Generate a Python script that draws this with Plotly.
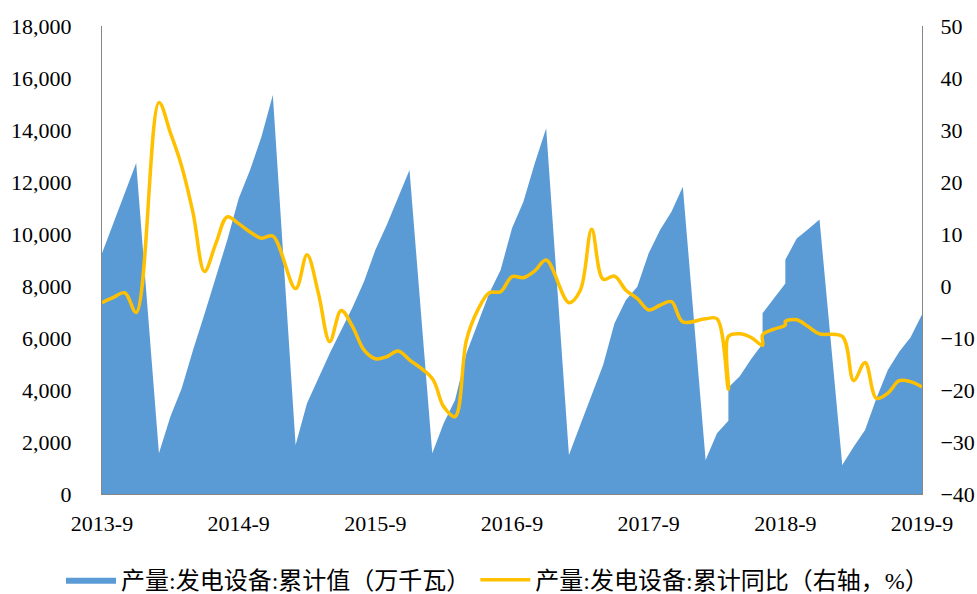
import plotly.graph_objects as go

# Month labels (January is not reported; some months appear twice in the source data)
months = [
    "2013-09", "2013-10", "2013-11", "2013-12",
    "2014-02", "2014-03", "2014-04", "2014-05", "2014-06", "2014-07", "2014-08", "2014-09", "2014-10", "2014-11", "2014-12",
    "2015-02", "2015-03", "2015-04", "2015-05", "2015-06", "2015-07", "2015-08", "2015-09", "2015-10", "2015-11", "2015-12",
    "2016-02", "2016-03", "2016-04", "2016-05", "2016-06", "2016-07", "2016-08", "2016-09", "2016-10", "2016-11", "2016-12",
    "2017-02", "2017-03", "2017-04", "2017-05", "2017-06", "2017-07", "2017-08", "2017-09", "2017-10", "2017-11", "2017-12",
    "2018-02", "2018-03", "2018-04", "2018-04", "2018-05", "2018-06", "2018-07", "2018-07", "2018-08", "2018-09", "2018-09",
    "2018-10", "2018-11", "2018-12",
    "2019-02", "2019-03", "2019-04", "2019-05", "2019-06", "2019-07", "2019-08", "2019-09",
]

# 产量:发电设备:累计值（万千瓦）
cum_value = [
    9260, 10410, 11565, 12730,
    1565, 2975, 4064, 5550, 6920, 8350, 9770, 11370, 12460, 13740, 15346,
    1885, 3490, 4450, 5410, 6295, 7180, 8165, 9385, 10346, 11435, 12460,
    1565, 2720, 3615, 5410, 6565, 7720, 8615, 10220, 11240, 12720, 14065,
    1500, 2665, 3808, 4960, 6565, 7460, 7975, 9260, 10150, 10860, 11820,
    1308, 2334, 2820, 4100, 4530, 5190, 5780, 6950, 7540, 8100, 9010,
    9830, 10180, 10560,
    1115, 1820, 2460, 3680, 4770, 5470, 6030, 6900,
]

# 产量:发电设备:累计同比（右轴，%）
cum_yoy = [
    -3.2, -2.2, -1.3, -5.1,
    35.3, 29.5, 23.0, 14.0, 2.8, 8.2, 13.3, 12.0, 10.4, 9.2, 9.6,
    -0.5, 6.0, -1.4, -10.7, -4.7, -7.8, -12.3, -14.0, -13.6, -12.5, -14.2,
    -17.8, -23.2, -25.1, -10.4, -4.6, -1.3, -1.1, 1.8, 1.6, 2.9, 5.0,
    -3.2, -0.8, 10.9, 1.3, 1.9, -0.8, -2.4, -4.6, -3.7, -3.0, -6.9,
    -6.3, -6.3, -19.9, -9.7, -9.2, -9.9, -11.4, -9.4, -8.3, -7.5, -6.8,
    -6.5, -7.8, -9.2,
    -9.7, -18.2, -14.7, -21.6, -20.6, -18.2, -18.4, -19.4,
]

tick_labels = ["2013-9", "2014-9", "2015-9", "2016-9", "2017-9", "2018-9", "2019-9"]

def month_index(s):
    y, m = s.split("-")
    return (int(y) - 2013) * 12 + (int(m) - 9)

x = [month_index(m) for m in months]
tick_vals = [month_index(t) for t in tick_labels]

serif = "Liberation Serif, Times New Roman, serif"
cjk = "Liberation Serif, Noto Sans CJK SC, sans-serif"

fig = go.Figure()
fig.add_trace(go.Scatter(
    x=x, y=cum_value, name="产量:发电设备:累计值（万千瓦）",
    mode="lines", line=dict(width=0, color="#5B9BD5"),
    fill="tozeroy", fillcolor="#5B9BD5", yaxis="y",
))
fig.add_trace(go.Scatter(
    x=x, y=cum_yoy, name="产量:发电设备:累计同比（右轴，%）",
    mode="lines", line=dict(width=3.5, color="#FFC000", shape="spline", smoothing=1),
    yaxis="y2",
))

axis_color = "#868686"
fig.update_layout(
    width=977, height=594,
    margin=dict(l=102, r=55, t=26, b=100, autoexpand=False),
    paper_bgcolor="white", plot_bgcolor="white",
    showlegend=True,
    legend=dict(orientation="h", xref="paper", yref="paper",
                x=-0.05, xanchor="left", y=-0.184, yanchor="middle",
                font=dict(family=cjk, size=24, color="black"),
                itemwidth=50, traceorder="normal"),
    xaxis=dict(range=[0, 72], tickvals=tick_vals, ticktext=tick_labels, automargin=False,
               showgrid=False, zeroline=False, showline=True, linecolor=axis_color, linewidth=1,
               ticks="", tickfont=dict(family=serif, size=22, color="black"),
               ticklabelstandoff=10),
    yaxis=dict(range=[0, 18000], dtick=2000, tickformat=",", automargin=False,
               showgrid=False, zeroline=False, showline=True, linecolor=axis_color, linewidth=1,
               ticks="", tickfont=dict(family=serif, size=22, color="black"),
               ticklabelstandoff=25),
    yaxis2=dict(range=[-40, 50], dtick=10, overlaying="y", side="right", automargin=False,
                showgrid=False, zeroline=False, showline=True, linecolor=axis_color, linewidth=1,
                ticks="", tickfont=dict(family=serif, size=22, color="black"),
                ticklabelstandoff=13),
)

fig.write_html(
    "out.html",
    config={"displayModeBar": False},
    post_script="document.body.style.margin='0';document.body.style.overflow='hidden';",
)
